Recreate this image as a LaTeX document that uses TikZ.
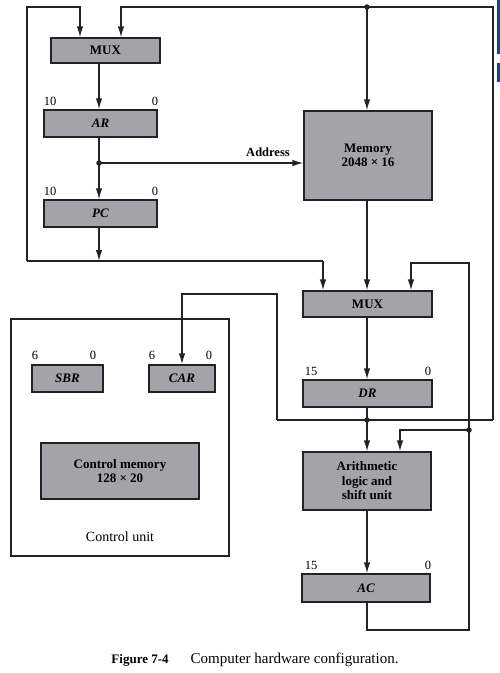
\documentclass[tikz,border=0pt]{standalone}
\usepackage{fontspec}
\setmainfont{Liberation Serif}
\usetikzlibrary{arrows.meta}
\definecolor{regfill}{RGB}{163,163,168}
\definecolor{ink}{RGB}{35,35,38}
\definecolor{tabblue}{RGB}{25,65,150}
\begin{document}
\begin{tikzpicture}[x=1pt,y=-1pt,
  font=\fontsize{14}{15}\selectfont,
  unit/.style={draw=ink,fill=regfill,line width=1.3pt,inner sep=0pt,text=black,
    font=\fontsize{13}{14.5}\selectfont\bfseries,align=center},
  reg/.style={unit,font=\fontsize{13}{14.5}\selectfont\bfseries\itshape},
  wire/.style={draw=ink,line width=1.3pt},
  arr/.style={wire,-{Latex[length=11pt,width=6.5pt]}},
  bit/.style={font=\fontsize{12.5}{13.5}\selectfont,inner sep=0pt},
  tap/.style={circle,fill=ink,inner sep=0pt,minimum size=5.5pt}]
\useasboundingbox (0,0) rectangle (500,673);
\fill[white] (0,0) rectangle (500,673);
% page tab at the right edge
\fill[tabblue] (497,0) rectangle (500,54);
\fill[tabblue] (497,63) rectangle (500,82);

% control unit frame
\node[draw=ink,line width=1.3pt,fill=white,minimum width=218pt,minimum height=237pt,inner sep=0pt]
  (cu) at (120,437.5) {};
\node (cuLabel) at (120,537) {Control unit};

% registers and functional units
\node[unit,minimum width=109pt,minimum height=25pt] (muxA) at (105.5,50.5) {MUX};
\node[reg,minimum width=113pt,minimum height=27pt] (ar) at (100.5,123.5) {AR};
\node[reg,minimum width=113pt,minimum height=27pt] (pc) at (100.5,213.5) {PC};
\node[unit,minimum width=128pt,minimum height=89pt] (mem) at (368,155.5) {Memory\\2048 × 16};
\node[unit,minimum width=129pt,minimum height=26pt] (muxB) at (367.5,304) {MUX};
\node[reg,minimum width=129pt,minimum height=27pt] (dr) at (367.5,393.5) {DR};
\node[unit,minimum width=128pt,minimum height=58pt] (alu) at (367,481) {Arithmetic\\logic and\\shift unit};
\node[reg,minimum width=128pt,minimum height=28pt] (ac) at (366,588) {AC};
\node[reg,minimum width=71pt,minimum height=27pt] (sbr) at (67.5,378.5) {SBR};
\node[reg,minimum width=66pt,minimum height=27pt] (car) at (182,378.5) {CAR};
\node[unit,minimum width=158pt,minimum height=56pt] (cm) at (120,471) {Control memory\\128 × 20};

% bit numbering
\node[bit] (arHi) at (50,101) {10};   \node[bit] (arLo) at (155,101) {0};
\node[bit] (pcHi) at (50,191) {10};   \node[bit] (pcLo) at (155,191) {0};
\node[bit] (drHi) at (311,371) {15};  \node[bit] (drLo) at (428,371) {0};
\node[bit] (acHi) at (311,565) {15};  \node[bit] (acLo) at (428,565) {0};
\node[bit] (sbrHi) at (35,355) {6};   \node[bit] (sbrLo) at (93,355) {0};
\node[bit] (carHi) at (152,355) {6};  \node[bit] (carLo) at (209,355) {0};

% wire columns and corners
\coordinate (colA) at (99,0);
\coordinate (colM) at (367,0);
\coordinate (inA1) at (80,0);
\coordinate (inA2) at (121,0);
\coordinate (inB1) at (323,0);
\coordinate (inB3) at (411,0);
\coordinate (inU2) at (400,0);
\coordinate (tapAddr) at (99,163);
\coordinate (busL) at (27,261);
\coordinate (busR) at (323,261);
\coordinate (topL) at (27,7);
\coordinate (topR) at (493,7);
\coordinate (drTap) at (367,420);
\coordinate (drLoopR) at (493,420);
\coordinate (drLoopL) at (277,420);
\coordinate (carBend) at (277,294);
\coordinate (acDown) at (367,630);
\coordinate (acRight) at (469,630);
\coordinate (acTop) at (469,263);
\coordinate (acTap) at (469,430);

% address path
\draw[arr] (muxA.south -| colA) -- (ar.north -| colA);
\draw[arr] (ar.south -| colA) -- (pc.north -| colA);
\draw[arr] (tapAddr) -- (mem.west |- tapAddr);
\node[anchor=south,inner sep=0pt,font=\fontsize{12.5}{13.5}\selectfont\bfseries] (addr) at (268,157) {Address};

% PC to common bus
\draw[arr] (pc.south -| colA) -- (colA |- busL);
\draw[wire] (busL) -- (busR);
\draw[arr] (busL) -- (topL) -| (muxA.north -| inA1);
\draw[arr] (busR) -- (muxB.north -| inB1);

% memory path
\draw[arr] (mem.south -| colM) -- (muxB.north -| colM);
\draw[arr] (muxB.south -| colM) -- (dr.north -| colM);

% DR output loop
\draw[wire] (dr.south -| colM) -- (drTap);
\draw[arr] (drTap) -- (alu.north -| colM);
\draw[wire] (drLoopL) -- (drLoopR);
\draw[arr] (drLoopR) -- (topR) -| (muxA.north -| inA2);
\draw[arr] (colM |- topR) -- (mem.north -| colM);
\draw[arr] (drLoopL) -- (carBend) -| (car.north);

% ALU and AC loop
\draw[arr] (alu.south -| colM) -- (ac.north -| colM);
\draw[arr] (ac.south -| colM) -- (acDown) -- (acRight) -- (acTop) -| (muxB.north -| inB3);
\draw[arr] (acTap) -| (alu.north -| inU2);

% junction dots
\node[tap] (dAddr) at (tapAddr) {};
\node[tap] (dTop) at (colM |- topR) {};
\node[tap] (dDr) at (drTap) {};
\node[tap] (dAc) at (acTap) {};

% caption
\node[font=\fontsize{15}{16}\selectfont] (cap) at (255,660)
  {{\fontsize{13}{14}\selectfont\bfseries Figure 7-4}\hspace{22pt}Computer hardware configuration.};
\end{tikzpicture}
\end{document}
